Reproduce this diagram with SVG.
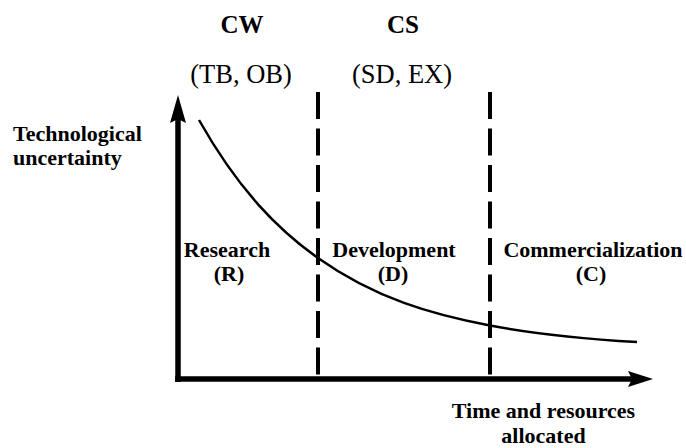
<svg xmlns="http://www.w3.org/2000/svg" width="686" height="448" viewBox="0 0 686 448">
<style>
.b{font-weight:bold;font-size:22px}
.h{font-weight:bold;font-size:25px}
.r{font-size:26.5px}
.dash{stroke:#000;stroke-width:4;stroke-dasharray:27 9.5;fill:none}
.axis{stroke:#000;stroke-width:5.5;fill:none}
</style>
<rect width="686" height="448" fill="#fff"/>
<g font-family="Liberation Serif, Times New Roman, serif" fill="#000">
<g id="headers">
<text class="h" x="242" y="33" text-anchor="middle">CW</text>
<text class="h" x="403" y="33" text-anchor="middle">CS</text>
<text class="r" x="241" y="83" text-anchor="middle">(TB, OB)</text>
<text class="r" x="402" y="83" text-anchor="middle">(SD, EX)</text>
</g>
<g id="y-label">
<text class="b" x="13" y="141">Technological</text>
<text class="b" x="13" y="165">uncertainty</text>
</g>
<g id="x-label">
<text class="b" x="543.5" y="418" text-anchor="middle">Time and resources</text>
<text class="b" x="543.5" y="443" text-anchor="middle">allocated</text>
</g>
<g id="research">
<text class="b" x="227" y="257" text-anchor="middle">Research</text>
<text class="b" x="229" y="281" text-anchor="middle">(R)</text>
</g>
<g id="development">
<text class="b" x="394" y="257" text-anchor="middle">Development</text>
<text class="b" x="393" y="281" text-anchor="middle">(D)</text>
</g>
<g id="commercialization">
<text class="b" x="593" y="257" text-anchor="middle">Commercialization</text>
<text class="b" x="591" y="281" text-anchor="middle">(C)</text>
</g>
</g>
<g id="connectors">
<line class="dash" x1="318" y1="92" x2="318" y2="374.5"/>
<line class="dash" x1="490" y1="92" x2="490" y2="374.5"/>
<path class="axis" d="M178 382 V118"/>
<polygon points="178,95 170,123 178,119 186,123" fill="#000"/>
<path class="axis" d="M175 379 H632"/>
<polygon points="653,379 628,371 632,379 628,387" fill="#000"/>
<path d="M199 120 C238.7 190.3 278.3 229.9 318 258 C375.3 298.6 432.7 314.7 490 325.5 C539 334.8 588 339.1 637 342.1" fill="none" stroke="#000" stroke-width="2.5"/>
</g>
</svg>
